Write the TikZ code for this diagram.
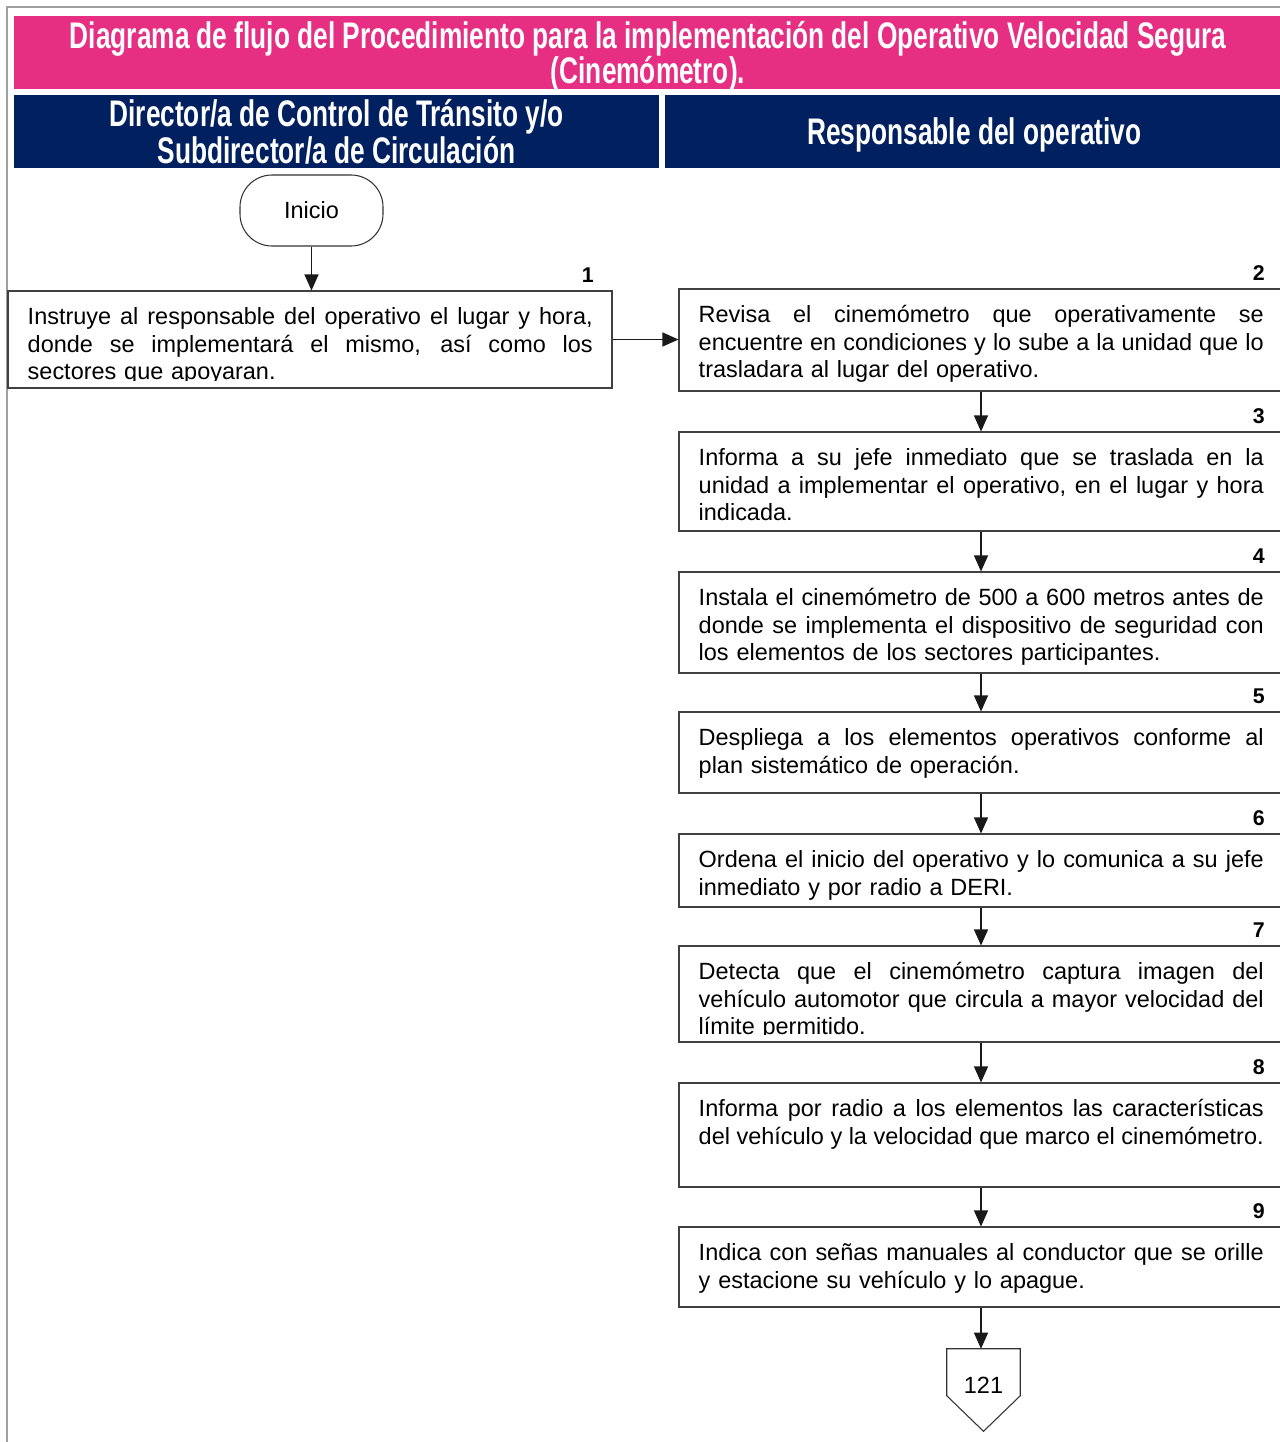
\documentclass[tikz,border=0pt]{standalone}
\usepackage{fontspec}
\setmainfont{Liberation Sans}
\newfontfamily\headfont[FakeStretch=0.71]{Liberation Sans Bold}
\usetikzlibrary{arrows.meta,fit,calc}

\definecolor{titlepink}{HTML}{E62E83}
\definecolor{lanenavy}{HTML}{002060}
\definecolor{pagegray}{HTML}{A0A0A0}

% one justified line of a step description
\newcommand\jl[1]{\leavevmode\hbox to 423.75pt{\spaceskip=\fontdimen2\font plus 1fil
  \xspaceskip=\fontdimen2\font plus 1fil\relax #1}}

% name, x1, y1, x2, y2, number, description
\newcommand\flowstep[7]{%
  \node[stepbox, fit={(#2,#3) (#4,#5)}] (#1) {};
  \begin{scope}
    \clip (#1.north west) rectangle ([yshift=6pt]#1.south east);
    \node[steptext] (#1t) at ([xshift=15pt,yshift=-8.5pt]#1.north west)
      {\rule{0pt}{17pt}#7};
  \end{scope}
  \path (#1t.north east |- #1.north) ++(1,-8) node[numlabel] (#1n) {#6};
}

\tikzset{
  frame/.style={draw=pagegray, line width=1.5pt},
  band/.style={inner sep=0, fill=#1},
  headtxt/.style={text=white, inner sep=0, align=center,
    font=\headfont\fontsize{27.75}{26.6}\selectfont},
  lanetxt/.style={text=white, inner sep=0, align=center,
    font=\headfont\fontsize{27.75}{27.75}\selectfont},
  stepbox/.style={draw=black!75, line width=0.8pt, inner sep=0},
  steptext/.style={inner sep=0, text width=423.75pt, align=left,
    anchor=north west, font=\fontsize{17.6}{20.6}\selectfont},
  numlabel/.style={inner sep=0, anchor=base east,
    font=\bfseries\fontsize{16}{18}\selectfont},
  flow/.style={draw=black!90, line width=0.9pt,
    -{Triangle[width=10.5pt,length=12pt]}},
  startbox/.style={draw=black!80, line width=0.8pt, rounded corners=24pt,
    minimum width=107.25pt, minimum height=53.25pt, inner sep=0,
    font=\fontsize{17.6}{20}\selectfont},
  offpage/.style={draw=black!80, line width=0.8pt},
}

\begin{document}
\begin{tikzpicture}[x=0.75pt,y=-0.75pt]
\useasboundingbox (0,0) rectangle (1280,1442);
\fill[white] (0,0) rectangle (1280,1442);

% page frame
\draw[frame] (1290,7) -- (7,7) -- (7,1450);

% title band and lane headers
\node[band=titlepink, fit={(14,16) (1290,89)}] (title) {};
\node[headtxt] (titletxt) at (648,56.5)
  {Diagrama de flujo del Procedimiento para la implementación del Operativo Velocidad Segura\\(Cinemómetro).};
\node[band=lanenavy, fit={(14,95) (659,168)}] (laneA) {};
\node[lanetxt] (laneAtxt) at (336.5,131.5)
  {Director/a de Control de Tránsito y/o\\Subdirector/a de Circulación};
\node[band=lanenavy, fit={(665,95) (1290,168)}] (laneB) {};
\node[lanetxt] (laneBtxt) at (974.5,135) {Responsable del operativo};

% start
\node[startbox] (inicio) at (311.5,210.5) {Inicio};

% steps
\flowstep{s1}{8}{291}{612}{388}{1}{%
  \jl{Instruye al responsable del operativo el lugar y hora,}\\
  \jl{donde se implementará el mismo, así como los}\\
  sectores que apoyaran.}
\flowstep{s2}{679}{289}{1283}{391}{2}{%
  \jl{Revisa el cinemómetro que operativamente se}\\
  \jl{encuentre en condiciones y lo sube a la unidad que lo}\\
  trasladara al lugar del operativo.}
\flowstep{s3}{679}{432}{1283}{531}{3}{%
  \jl{Informa a su jefe inmediato que se traslada en la}\\
  \jl{unidad a implementar el operativo, en el lugar y hora}\\
  indicada.}
\flowstep{s4}{679}{572}{1283}{673}{4}{%
  \jl{Instala el cinemómetro de 500 a 600 metros antes de}\\
  \jl{donde se implementa el dispositivo de seguridad con}\\
  los elementos de los sectores participantes.}
\flowstep{s5}{679}{712}{1283}{793}{5}{%
  \jl{Despliega a los elementos operativos conforme al}\\
  plan sistemático de operación.}
\flowstep{s6}{679}{834}{1283}{907}{6}{%
  \jl{Ordena el inicio del operativo y lo comunica a su jefe}\\
  inmediato y por radio a DERI.}
\flowstep{s7}{679}{946}{1283}{1042}{7}{%
  \jl{Detecta que el cinemómetro captura imagen del}\\
  \jl{vehículo automotor que circula a mayor velocidad del}\\
  límite permitido.}
\flowstep{s8}{679}{1083}{1283}{1187}{8}{%
  \jl{Informa por radio a los elementos las características}\\
  \jl{del vehículo y la velocidad que marco el cinemómetro.}}
\flowstep{s9}{679}{1227}{1283}{1307}{9}{%
  \jl{Indica con señas manuales al conductor que se orille}\\
  y estacione su vehículo y lo apague.}

% off-page connector
\node[inner sep=0, minimum width=54.75pt, minimum height=61.5pt] (off) at (983.5,1390) {};
\draw[offpage] (off.north west) -- (off.north east) -- ($(off.north east)+(0,47)$)
  -- (off.south) -- ($(off.north west)+(0,47)$) -- cycle;
\node[inner sep=0, font=\fontsize{17.6}{20}\selectfont] (offtxt) at (983.5,1385) {121};

% connectors
\draw[flow] (inicio.south) -- (inicio.south |- s1.north);
\draw[flow] (s1.east) -- (s2.west |- s1.east);
\draw[flow] (s2) -- (s3);
\draw[flow] (s3) -- (s4);
\draw[flow] (s4) -- (s5);
\draw[flow] (s5) -- (s6);
\draw[flow] (s6) -- (s7);
\draw[flow] (s7) -- (s8);
\draw[flow] (s8) -- (s9);
\draw[flow] (s9.south) -- (s9.south |- off.north);
\end{tikzpicture}
\end{document}
